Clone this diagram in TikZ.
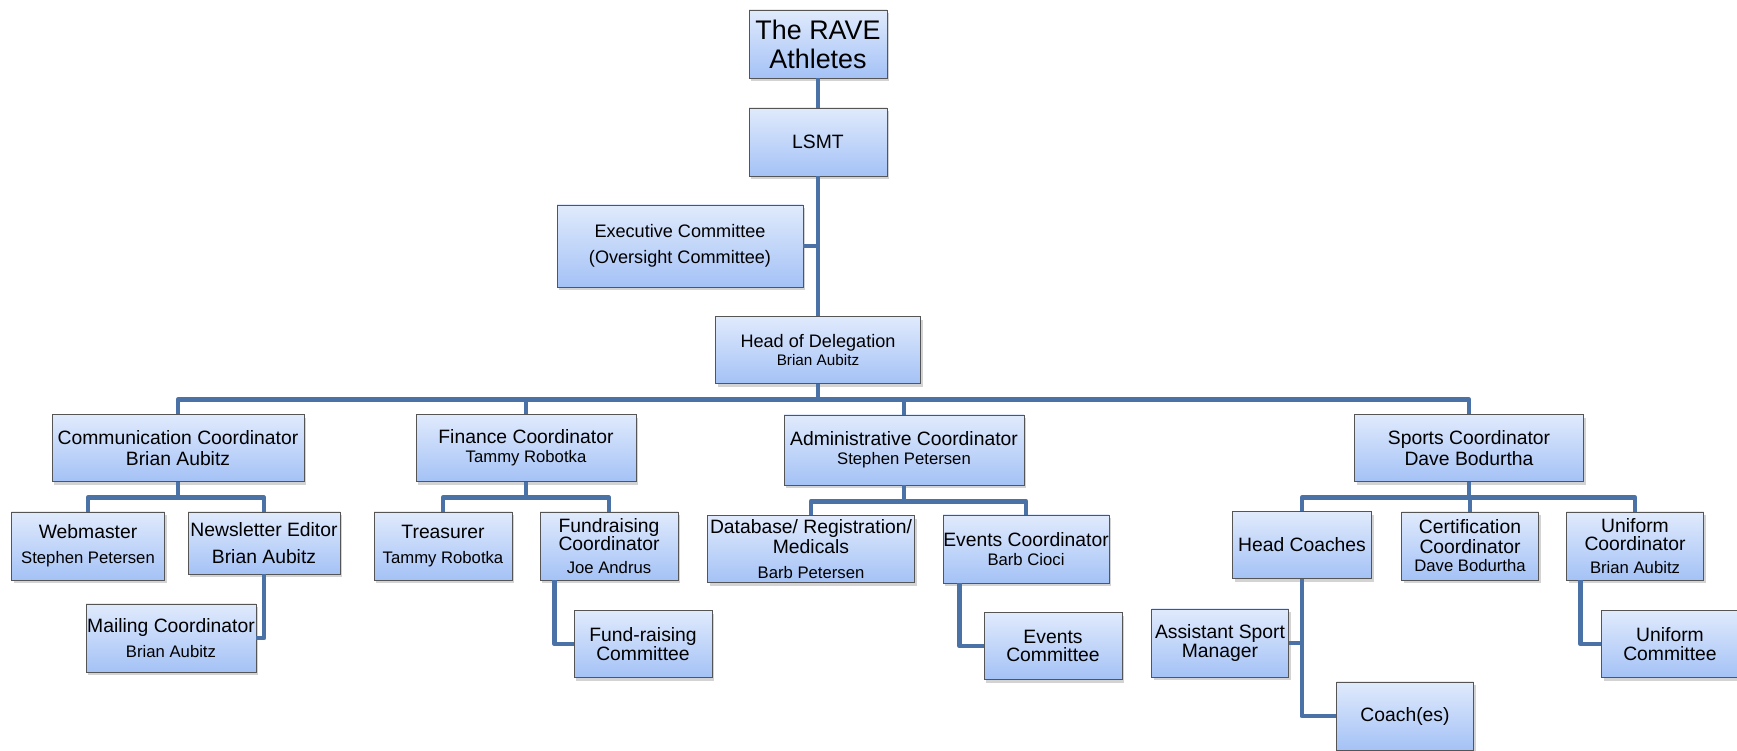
\documentclass[tikz,border=0pt]{standalone}
\usepackage{fontspec}
\setmainfont{Liberation Sans}
\usetikzlibrary{calc,shadows}
\definecolor{boxtop}{RGB}{224,234,252}
\definecolor{boxbot}{RGB}{164,194,246}
\definecolor{boxline}{RGB}{85,85,85}
\definecolor{wire}{RGB}{74,114,166}
\newcommand\nm[1]{{\fontsize{9.5}{11.5}\selectfont #1}}
\newcommand\md[1]{{\fontsize{10.3}{11.5}\selectfont #1}}

\begin{document}
\begin{tikzpicture}[
    post/.style={draw=boxline, line width=0.5pt, top color=boxtop, bottom color=boxbot,
        drop shadow={shadow xshift=1.2pt, shadow yshift=-1.8pt, opacity=0.35},
        inner sep=0pt, align=center, font=\fontsize{11}{11.5}\selectfont,
        minimum width=2.76cm, minimum height=1.36cm},
    link/.style={draw=wire, line width=2.8pt, line join=round}
]
\useasboundingbox (0,0) rectangle (34.74,-15.02);

\node[post, font=\fontsize{15.3}{16.5}\selectfont] (rave) at (16.36,-0.88) {The RAVE\\Athletes};
\node[post] (lsmt) at (16.36,-2.84) {LSMT};
\node[post, minimum width=4.92cm, minimum height=1.64cm] (exec) at (13.60,-4.92)
    {\md{Executive Committee}\\[3.2pt]\md{(Oversight Committee)}};
\node[post, minimum width=4.10cm, minimum height=1.34cm] (hod) at (16.36,-7.00)
    {\md{Head of Delegation}\\[-1pt]{\fontsize{8.7}{11.5}\selectfont Brian Aubitz}};

\node[post, minimum width=5.04cm, minimum height=1.34cm] (comm) at (3.56,-8.96)
    {Communication Coordinator\\[0.5pt]Brian Aubitz};
\node[post, minimum width=4.40cm, minimum height=1.34cm] (fin) at (10.52,-8.96)
    {Finance Coordinator\\[-0.8pt]\nm{Tammy Robotka}};
\node[post, minimum width=4.80cm, minimum height=1.40cm] (adm) at (18.08,-9.00)
    {Administrative Coordinator\\[-0.8pt]\nm{Stephen Petersen}};
\node[post, minimum width=4.58cm, minimum height=1.34cm] (spo) at (29.38,-8.96)
    {Sports Coordinator\\[0.5pt]Dave Bodurtha};

\node[post, minimum width=3.06cm] (web) at (1.76,-10.92) {Webmaster\\[2.7pt]\nm{Stephen Petersen}};
\node[post, minimum width=3.04cm, minimum height=1.24cm] (news) at (5.28,-10.86)
    {Newsletter Editor\\[3.8pt]Brian Aubitz};
\node[post, minimum width=3.40cm] (mail) at (3.42,-12.76) {Mailing Coordinator\\[2.7pt]\nm{Brian Aubitz}};

\node[post] (tre) at (8.86,-10.92) {Treasurer\\[2.7pt]\nm{Tammy Robotka}};
\node[post] (fund) at (12.18,-10.92) {Fundraising\\[-0.7pt]Coordinator\\[1.5pt]\nm{Joe Andrus}};
\node[post, minimum height=1.34cm] (fundc) at (12.86,-12.88) {Fund-raising\\[-1pt]Committee};

\node[post, minimum width=4.14cm, minimum height=1.34cm] (db) at (16.22,-10.98)
    {Database/ Registration/\\[-0.3pt]Medicals\\[2.7pt]\nm{Barb Petersen}};
\node[post, minimum width=3.32cm] (evt) at (20.52,-10.98) {Events Coordinator\\[-0.8pt]\nm{Barb Cioci}};
\node[post, minimum height=1.34cm] (evc) at (21.06,-12.92) {Events\\[-1pt]Committee};

\node[post, minimum width=2.78cm, minimum height=1.34cm] (hc) at (26.04,-10.90) {Head Coaches};
\node[post, minimum width=2.74cm] (asm) at (24.40,-12.86) {Assistant Sport\\[-0.5pt]Manager};
\node[post, minimum width=2.74cm] (coach) at (28.10,-14.32) {Coach(es)};
\node[post, minimum width=2.74cm] (cert) at (29.40,-10.92)
    {Certification\\[-0.3pt]Coordinator\\[-1pt]\nm{Dave Bodurtha}};
\node[post, minimum width=2.74cm] (uni) at (32.70,-10.92)
    {Uniform\\[-0.7pt]Coordinator\\[1.5pt]\nm{Brian Aubitz}};
\node[post, minimum width=2.74cm, minimum height=1.34cm] (unic) at (33.40,-12.88) {Uniform\\[-0.5pt]Committee};

\draw[link] (rave.south) -- (lsmt.north);
\draw[link] (lsmt.south) -- (hod.north);
\draw[link] (exec.east) -- (exec.east -| lsmt.south);

\coordinate (bus) at ($(hod.south)+(0,-0.32)$);
\draw[link] (hod.south) -- (bus);
\draw[link] (comm.north) |- (bus);
\draw[link] (fin.north) |- (bus);
\draw[link] (adm.north) |- (bus);
\draw[link] (spo.north) |- (bus);

\coordinate (cbus) at ($(comm.south)+(0,-0.32)$);
\draw[link] (comm.south) -- (cbus);
\draw[link] (web.north) |- (cbus);
\draw[link] (news.north) |- (cbus);
\draw[link] (news.south) |- (mail.east);

\coordinate (fbus) at ($(fin.south)+(0,-0.32)$);
\draw[link] (fin.south) -- (fbus);
\draw[link] (tre.north) |- (fbus);
\draw[link] (fund.north) |- (fbus);
\draw[link] ($(fund.south west)+(0.30,0)$) |- (fundc.west);

\coordinate (abus) at ($(adm.south)+(0,-0.32)$);
\draw[link] (adm.south) -- (abus);
\draw[link] (db.north) |- (abus);
\draw[link] (evt.north) |- (abus);
\draw[link] ($(evt.south west)+(0.34,0)$) |- (evc.west);

\coordinate (sbus) at ($(spo.south)+(0,-0.32)$);
\draw[link] (spo.south) -- (sbus);
\draw[link] (hc.north) |- (sbus);
\draw[link] (cert.north) |- (sbus);
\draw[link] (uni.north) |- (sbus);
\draw[link] (hc.south) |- (coach.west);
\draw[link] (asm.east) -- (asm.east -| hc.south);
\draw[link] ($(uni.south west)+(0.29,0)$) |- (unic.west);
\end{tikzpicture}
\end{document}
